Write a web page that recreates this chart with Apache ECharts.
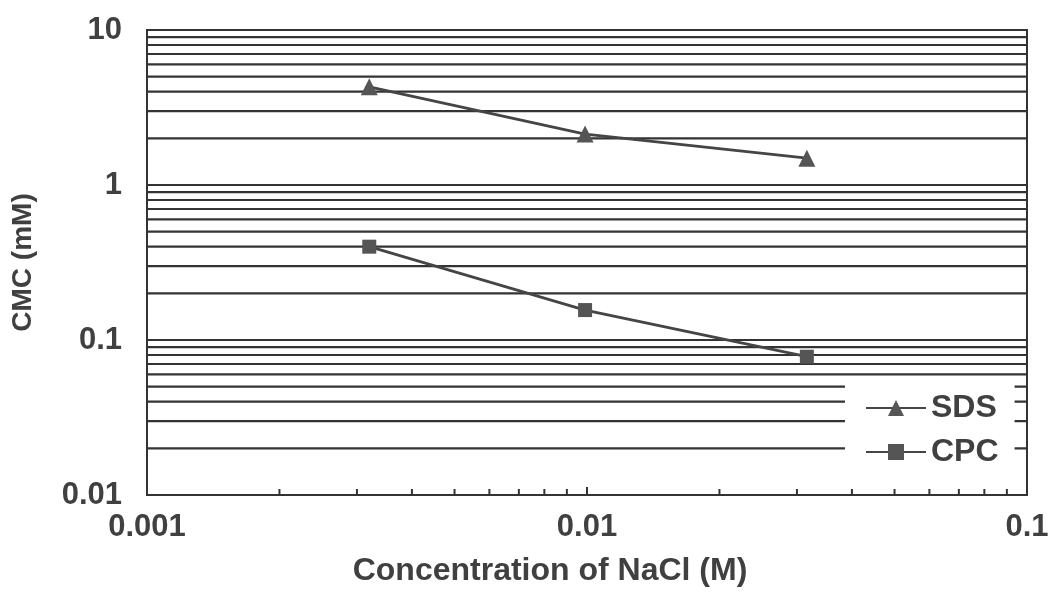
<!DOCTYPE html>
<html>
<head>
<meta charset="utf-8">
<script src="https://cdn.jsdelivr.net/npm/echarts@6/dist/echarts.min.js"></script>
<style>
  html, body { margin: 0; padding: 0; background: #fff; }
  #chart { width: 1053px; height: 599px; }
</style>
</head>
<body>
<div id="chart"></div>
<script>
// NaCl concentration (M) and CMC values (mM)
const nacl = [0.0032, 0.0099, 0.0316];
const sdsCmc = [4.3, 2.13, 1.49];
const cpcCmc = [0.40, 0.156, 0.078];

const xTickLabels = ['0.001', '0.01', '0.1'];
const yTickLabels = ['0.01', '0.1', '1', '10'];
const xRange = [0.001, 0.1];
const yRange = [0.01, 10];

// log-scale gridline / minor tick positions: 1..9 times each power of ten
function logSteps(lo, hi) {
  const out = [];
  for (let p = Math.round(Math.log10(lo)); p < Math.round(Math.log10(hi)); p++) {
    for (let m = 1; m <= 9; m++) out.push(+(m * Math.pow(10, p)).toPrecision(3));
  }
  out.push(hi);
  return out;
}
const yGridValues = logSteps(yRange[0], yRange[1]).filter(v => v > yRange[0]);
const xMinorValues = logSteps(xRange[0], xRange[1]).filter(v => !xTickLabels.includes(String(v)));

const ink = '#333';
const textInk = '#404040';
const font = '"Liberation Sans", Arial, sans-serif';

const chart = echarts.init(document.getElementById('chart'), null, { renderer: 'canvas' });

chart.setOption({
  animation: false,
  backgroundColor: '#fff',
  grid: {
    left: 147, right: 26, top: 30, bottom: 104,
    show: true, borderColor: ink, borderWidth: 2, backgroundColor: 'transparent'
  },
  legend: {
    data: ['SDS', 'CPC'],
    orient: 'vertical',
    left: 845, top: 378,
    padding: [14, 16, 16, 20],
    itemGap: 12,
    itemWidth: 60,
    itemHeight: 20,
    backgroundColor: '#fff',
    textStyle: { fontFamily: font, fontWeight: 'bold', fontSize: 32, color: textInk, lineHeight: 32 }
  },
  xAxis: {
    type: 'log', logBase: 10, min: xRange[0], max: xRange[1],
    name: 'Concentration of NaCl (M)', nameLocation: 'middle', nameGap: 60,
    nameTextStyle: { fontFamily: font, fontWeight: 'bold', fontSize: 32, color: textInk, padding: [0, 74, 0, 0] },
    axisLine: { lineStyle: { color: ink, width: 2 } },
    axisTick: { inside: true, length: 8, lineStyle: { color: ink, width: 2 } },
    axisLabel: {
      margin: 17, fontFamily: font, fontWeight: 'bold', fontSize: 31, color: textInk,
      formatter: v => xTickLabels.find(t => Math.abs(+t - v) / v < 1e-6) || ''
    },
    splitLine: { show: false }
  },
  yAxis: {
    type: 'log', logBase: 10, min: yRange[0], max: yRange[1],
    name: 'CMC (mM)', nameLocation: 'middle', nameGap: 110,
    nameTextStyle: { fontFamily: font, fontWeight: 'bold', fontSize: 28, color: textInk },
    axisLine: { lineStyle: { color: ink, width: 2 } },
    axisTick: { show: false },
    axisLabel: {
      margin: 25, fontFamily: font, fontWeight: 'bold', fontSize: 31, color: textInk,
      formatter: v => yTickLabels.find(t => Math.abs(+t - v) / v < 1e-6) || ''
    },
    splitLine: { show: false }
  },
  series: [
    {
      // horizontal gridlines at every 1..9 step of each decade
      type: 'custom', name: 'hgrid', silent: true, z: 1,
      data: yGridValues.map(v => [xRange[0], v]),
      renderItem: (params, api) => {
        const a = api.coord([xRange[0], api.value(1)]);
        const b = api.coord([xRange[1], api.value(1)]);
        return { type: 'line', shape: { x1: a[0], y1: a[1], x2: b[0], y2: b[1] },
                 style: { stroke: ink, lineWidth: 2.2 } };
      }
    },
    {
      // minor ticks along the bottom axis
      type: 'custom', name: 'xminor', silent: true, z: 1,
      data: xMinorValues.map(v => [v, yRange[0]]),
      renderItem: (params, api) => {
        const p = api.coord([api.value(0), yRange[0]]);
        return { type: 'line', shape: { x1: p[0], y1: p[1], x2: p[0], y2: p[1] - 6 },
                 style: { stroke: ink, lineWidth: 2 } };
      }
    },
    {
      name: 'SDS', type: 'line', z: 3,
      data: nacl.map((x, i) => [x, sdsCmc[i]]),
      symbol: 'triangle', symbolSize: 17,
      lineStyle: { color: '#454545', width: 2.8 },
      itemStyle: { color: '#555' }
    },
    {
      name: 'CPC', type: 'line', z: 3,
      data: nacl.map((x, i) => [x, cpcCmc[i]]),
      symbol: 'rect', symbolSize: 14,
      lineStyle: { color: '#454545', width: 2.8 },
      itemStyle: { color: '#555' }
    }
  ]
});
</script>
</body>
</html>
